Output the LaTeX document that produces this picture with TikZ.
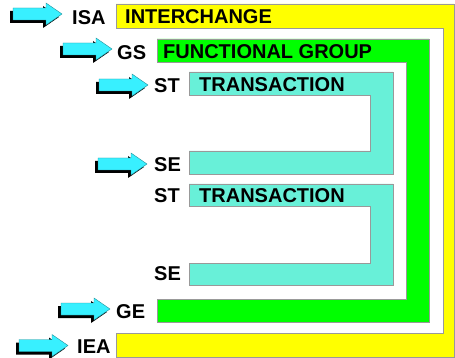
\documentclass[tikz,border=0pt]{standalone}
\usepackage{fontspec}
\setmainfont{Liberation Sans}
\definecolor{ediyellow}{RGB}{255,255,0}
\definecolor{edigreen}{RGB}{0,255,0}
\definecolor{editeal}{RGB}{104,240,216}
\definecolor{edicyan}{RGB}{56,240,255}
\tikzset{
  frame/.style={draw=black!40, line width=0.7pt},
  tag/.style={inner sep=0pt, anchor=west, text height=14.3pt, text depth=0pt,
              font=\bfseries\fontsize{20}{24}\selectfont},
  segarrow/.pic={
    \begin{scope}[shift={(-3,3)}]
      \fill[black] (-49,-6) -- (-16,-6) -- (-16,-11) -- (0,0)
                   -- (-16,11) -- (-16,6) -- (-49,6) -- cycle;
    \end{scope}
    \filldraw[fill=edicyan, draw=edicyan!60!black, line width=0.4pt]
                   (-49,-6) -- (-16,-6) -- (-16,-11) -- (0,0)
                   -- (-16,11) -- (-16,6) -- (-49,6) -- cycle;
  }
}
\begin{document}
\begin{tikzpicture}[x=1pt,y=-1pt]
\useasboundingbox (0,0) rectangle (455,358);

% interchange envelope
\path[frame, fill=ediyellow] (116,4) -- (454,4) -- (454,357) -- (116,357)
  -- (116,333) -- (443,333) -- (443,28) -- (116,28) -- cycle;
% functional group envelope
\path[frame, fill=edigreen] (157,39) -- (429,39) -- (429,322) -- (157,322)
  -- (157,299) -- (406,299) -- (406,62) -- (157,62) -- cycle;
% transaction sets
\path[frame, fill=editeal] (189,72) -- (393,72) -- (393,174) -- (189,174)
  -- (189,151) -- (370,151) -- (370,95) -- (189,95) -- cycle;
\path[frame, fill=editeal] (189,184) -- (393,184) -- (393,285) -- (189,285)
  -- (189,263) -- (370,263) -- (370,206) -- (189,206) -- cycle;

% titles inside the envelopes
\node[tag] (tInterchange) at (125,16.5) {INTERCHANGE};
\node[tag] (tGroup) at (163,51) {FUNCTIONAL GROUP};
\node[tag] (tTrans1) at (199,84) {TRANSACTION};
\node[tag] (tTrans2) at (199,195.5) {TRANSACTION};

% segment names
\node[tag] (isa) at (72,17.5) {ISA};
\node[tag] (gs) at (117,52) {GS};
\node[tag] (st1) at (154,85.5) {ST};
\node[tag] (se1) at (154,164.5) {SE};
\node[tag] (st2) at (154,195.5) {ST};
\node[tag] (se2) at (154,273.5) {SE};
\node[tag] (ge) at (116,311) {GE};
\node[tag] (iea) at (77,346.5) {IEA};

% pointers to the segments
\pic (aIsa) at (62,14) {segarrow};
\pic (aGs) at (112,49) {segarrow};
\pic (aSt) at (148,85) {segarrow};
\pic (aSe) at (147,164) {segarrow};
\pic (aGe) at (110,309) {segarrow};
\pic (aIea) at (68,345.5) {segarrow};
\end{tikzpicture}
\end{document}
